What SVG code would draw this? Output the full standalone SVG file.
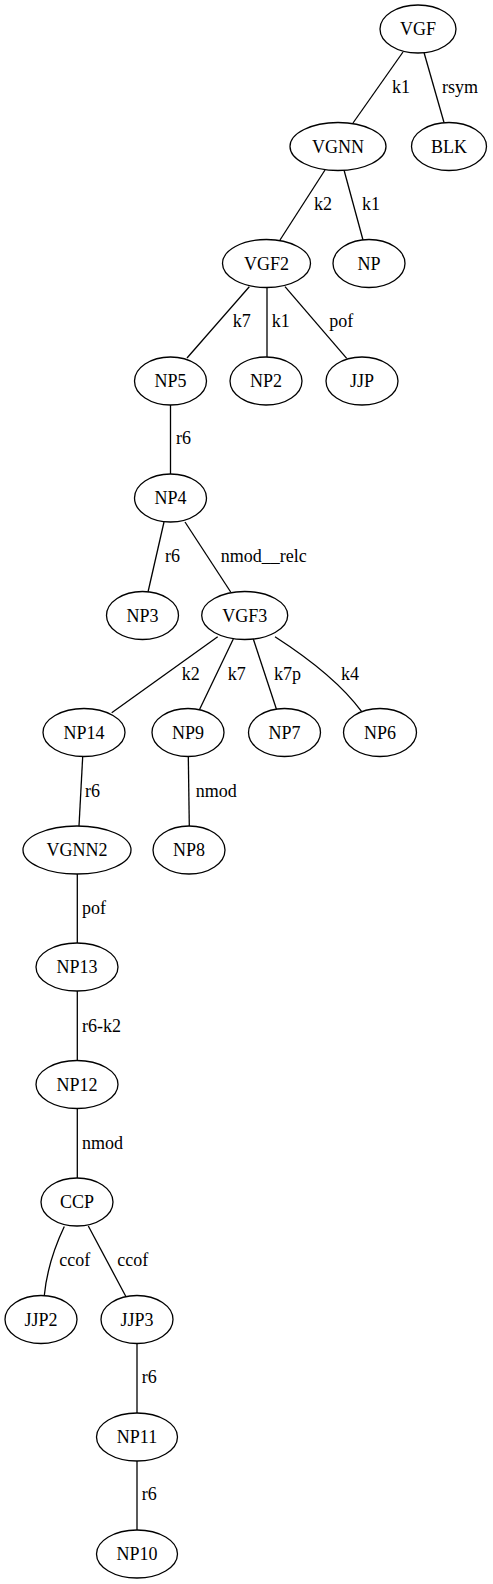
<svg xmlns="http://www.w3.org/2000/svg" width="493" height="1584" viewBox="0 0 493 1584" font-family="'Liberation Serif', 'Times New Roman', Times, serif" font-size="18">
<style>
.n ellipse{fill:#fff;stroke:#000;stroke-width:1.3}
.n text{text-anchor:middle;fill:#000}
#edges path{fill:none;stroke:#000;stroke-width:1.3}
#edges text{fill:#000}
</style>
<rect width="493" height="1584" fill="#fff"/>
<g id="edges">
<path d="M403,52 L353,123"/><text x="392" y="93">k1</text>
<path d="M424,52.5 L444,122.5"/><text x="442" y="93">rsym</text>
<path d="M325,170 L280,240"/><text x="314" y="210">k2</text>
<path d="M344,170 L363,240"/><text x="362" y="210">k1</text>
<path d="M249.3,286.7 L187,358"/><text x="232.7" y="327">k7</text>
<path d="M267,287.5 L267,357.5"/><text x="271.7" y="327">k1</text>
<path d="M285,286.7 L346.7,358.3"/><text x="329.3" y="327">pof</text>
<path d="M170.5,405 L170.5,474"/><text x="176" y="444">r6</text>
<path d="M164,522 L148,592"/><text x="165" y="562">r6</text>
<path d="M185,522 L230.7,592"/><text x="220.7" y="562">nmod__relc</text>
<path d="M217.7,636.7 L111.7,712.7"/><text x="181.7" y="680">k2</text>
<path d="M233.3,639 L199.3,710"/><text x="227.7" y="680">k7</text>
<path d="M253.3,639 L276.7,710"/><text x="274" y="680">k7p</text>
<path d="M275,636.7 C305,656 340,682 361.7,711.7"/><text x="341" y="680">k4</text>
<path d="M82.7,756.5 L79,826"/><text x="85" y="797">r6</text>
<path d="M188.3,756 L189.3,826"/><text x="195.7" y="797">nmod</text>
<path d="M77.3,874 L77.3,943"/><text x="82" y="914">pof</text>
<path d="M77.3,991 L77.3,1060.5"/><text x="82" y="1031.7">r6-k2</text>
<path d="M77.3,1108.5 L77.3,1178"/><text x="82" y="1148.5">nmod</text>
<path d="M64.3,1226.5 C56,1244 47,1268 44.3,1295.5"/><text x="59.3" y="1265.7">ccof</text>
<path d="M88.3,1226 L126,1296.7"/><text x="117.3" y="1265.7">ccof</text>
<path d="M137,1343.5 L137,1413"/><text x="141.7" y="1383">r6</text>
<path d="M137,1461 L137,1530"/><text x="141.7" y="1500">r6</text>
</g>
<g id="VGF" class="n"><ellipse cx="418" cy="29" rx="38" ry="24"/><text x="418" y="35">VGF</text></g>
<g id="VGNN" class="n"><ellipse cx="338" cy="146.5" rx="48" ry="24"/><text x="338" y="152.5">VGNN</text></g>
<g id="BLK" class="n"><ellipse cx="449" cy="146.5" rx="37.5" ry="24"/><text x="449" y="152.5">BLK</text></g>
<g id="VGF2" class="n"><ellipse cx="266.5" cy="263.5" rx="44" ry="24"/><text x="266.5" y="269.5">VGF2</text></g>
<g id="NP" class="n"><ellipse cx="369" cy="263.5" rx="36" ry="24"/><text x="369" y="269.5">NP</text></g>
<g id="NP5" class="n"><ellipse cx="170.5" cy="381" rx="36" ry="24"/><text x="170.5" y="387">NP5</text></g>
<g id="NP2" class="n"><ellipse cx="266" cy="381" rx="36" ry="24"/><text x="266" y="387">NP2</text></g>
<g id="JJP" class="n"><ellipse cx="362" cy="381" rx="36" ry="24"/><text x="362" y="387">JJP</text></g>
<g id="NP4" class="n"><ellipse cx="170.5" cy="498" rx="36" ry="24"/><text x="170.5" y="504">NP4</text></g>
<g id="NP3" class="n"><ellipse cx="142.5" cy="615.5" rx="36" ry="24"/><text x="142.5" y="621.5">NP3</text></g>
<g id="VGF3" class="n"><ellipse cx="244.7" cy="615.5" rx="43" ry="24"/><text x="244.7" y="621.5">VGF3</text></g>
<g id="NP14" class="n"><ellipse cx="84" cy="732.5" rx="41" ry="24"/><text x="84" y="738.5">NP14</text></g>
<g id="NP9" class="n"><ellipse cx="188" cy="732.5" rx="36" ry="24"/><text x="188" y="738.5">NP9</text></g>
<g id="NP7" class="n"><ellipse cx="284.5" cy="732.5" rx="36" ry="24"/><text x="284.5" y="738.5">NP7</text></g>
<g id="NP6" class="n"><ellipse cx="380" cy="732.5" rx="36.5" ry="24"/><text x="380" y="738.5">NP6</text></g>
<g id="VGNN2" class="n"><ellipse cx="77" cy="850" rx="54" ry="24"/><text x="77" y="856">VGNN2</text></g>
<g id="NP8" class="n"><ellipse cx="189" cy="850" rx="36" ry="24"/><text x="189" y="856">NP8</text></g>
<g id="NP13" class="n"><ellipse cx="77" cy="967" rx="41" ry="24"/><text x="77" y="973">NP13</text></g>
<g id="NP12" class="n"><ellipse cx="77" cy="1084.5" rx="41" ry="24"/><text x="77" y="1090.5">NP12</text></g>
<g id="CCP" class="n"><ellipse cx="77" cy="1202" rx="36" ry="24"/><text x="77" y="1208">CCP</text></g>
<g id="JJP2" class="n"><ellipse cx="41" cy="1319.5" rx="36" ry="24"/><text x="41" y="1325.5">JJP2</text></g>
<g id="JJP3" class="n"><ellipse cx="137" cy="1319.5" rx="36" ry="24"/><text x="137" y="1325.5">JJP3</text></g>
<g id="NP11" class="n"><ellipse cx="137" cy="1437" rx="40.5" ry="24"/><text x="137" y="1443">NP11</text></g>
<g id="NP10" class="n"><ellipse cx="137" cy="1554" rx="40.5" ry="24"/><text x="137" y="1560">NP10</text></g>
</svg>
